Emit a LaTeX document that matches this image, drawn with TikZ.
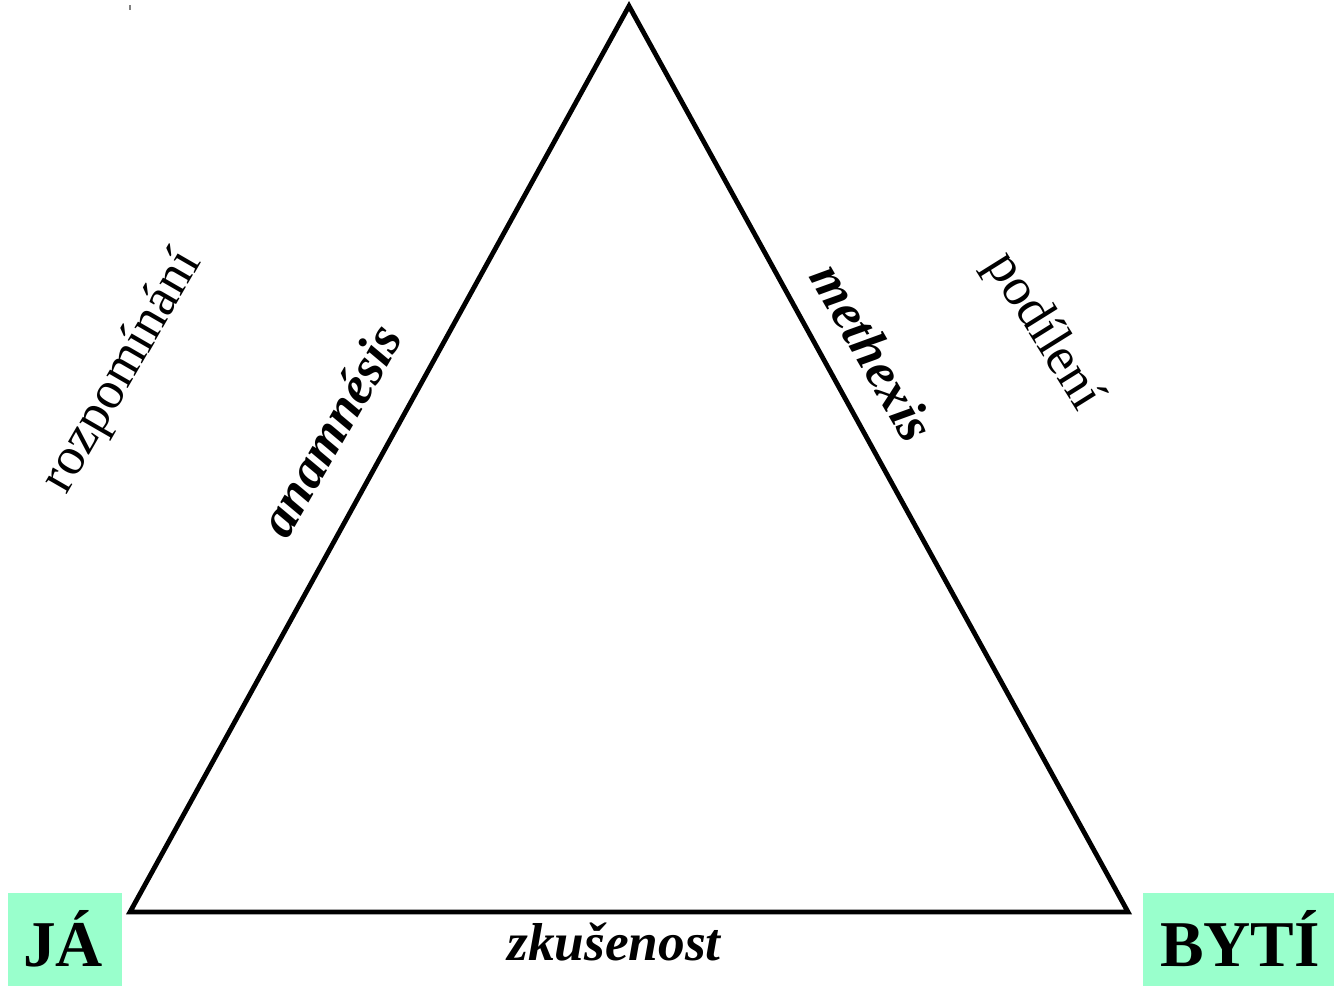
\documentclass[tikz,border=0pt]{standalone}
\usepackage{fontspec}
\setmainfont{Liberation Serif}
\definecolor{boxgreen}{RGB}{153,255,204}
\begin{document}
\begin{tikzpicture}[x=0.75pt,y=-0.75pt,
  edge/.style={line width=3.6pt,line join=miter},
  sidelabel/.style={inner sep=0pt,font=\fontsize{40}{44}\selectfont},
  boldlabel/.style={inner sep=0pt,font=\fontsize{40}{44}\selectfont\bfseries\itshape},
  cornerbox/.style={fill=boxgreen,draw=none},
  cornertext/.style={inner sep=0pt,anchor=base,font=\fontsize{49}{54}\selectfont\bfseries}]
\useasboundingbox (0,0) rectangle (1334,986);
% corner boxes
\fill[cornerbox] (8,893) rectangle (122,986);
\fill[cornerbox] (1143,893) rectangle (1334,986);
\node[cornertext] (ja) at (63,966) {JÁ};
\node[cornertext] (byti) at (1240,966) {BYTÍ};
% triangle
\coordinate (top) at (629,6);
\coordinate (bl) at (130,912);
\coordinate (br) at (1128,912);
\draw[edge] (top) -- (bl) -- (br) -- cycle;
% small mark
\draw[gray,line width=0.8pt] (130,5) -- (130,10);
% labels
\node[sidelabel,rotate=60] (rozp) at (123,372) {rozpomínání};
\node[boldlabel,rotate=60] (anam) at (330,430) {anamnésis};
\node[boldlabel,rotate=-60] (meth) at (873,352) {methexis};
\node[sidelabel,rotate=-58] (podil) at (1043,332) {podílení};
\node[boldlabel,anchor=base] (zkus) at (614,960) {zkušenost};
\end{tikzpicture}
\end{document}
